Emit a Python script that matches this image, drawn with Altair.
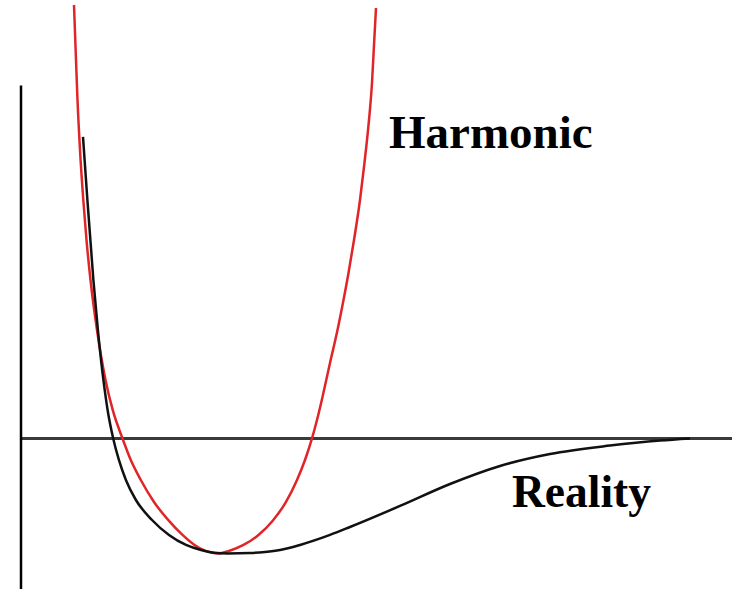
import altair as alt
import pandas as pd

# Harmonic approximation (red): separation r, energy V (well depth = 1)
harm_r = [0.265, 0.275, 0.2825, 0.295, 0.3115, 0.3275, 0.3475, 0.38, 0.4225, 0.4585,
          0.5075, 0.549, 0.599, 0.665, 0.74, 0.8075, 0.8675, 0.9225, 0.985,
          1.04, 1.1125, 1.1875, 1.2575, 1.325, 1.38, 1.42, 1.455, 1.4825, 1.5075,
          1.545, 1.5825, 1.6125, 1.6375, 1.665, 1.695, 1.715, 1.74, 1.755, 1.765, 1.775]
harm_v = [3.770, 3.291, 2.943, 2.509, 2.074, 1.726, 1.378, 0.943, 0.509, 0.248,
          0.0, -0.187, -0.361, -0.552, -0.717, -0.839, -0.926, -0.978, -1.0,
          -0.978, -0.926, -0.839, -0.717, -0.552, -0.361, -0.187, 0.0, 0.178, 0.361,
          0.657, 0.943, 1.204, 1.439, 1.726, 2.074, 2.361, 2.770, 3.091, 3.422, 3.743]

# Real (anharmonic) potential (black)
real_r = [0.31, 0.332, 0.362, 0.3845, 0.412, 0.433, 0.461, 0.4895, 0.5245, 0.5745,
          0.655, 0.74, 0.825, 0.9, 0.965, 1.035, 1.145, 1.22, 1.295, 1.395,
          1.545, 1.645, 1.895, 2.145, 2.395, 2.645, 2.945, 3.195, 3.345]
real_v = [2.622, 2.074, 1.378, 0.943, 0.509, 0.248, 0.0, -0.187, -0.361, -0.535,
          -0.709, -0.839, -0.926, -0.970, -0.993, -1.0, -0.996, -0.987, -0.970, -0.926,
          -0.839, -0.770, -0.587, -0.396, -0.239, -0.135, -0.062, -0.018, 0.0]

# Curve labels
label_text = ["Harmonic", "Reality"]
label_r = [1.84, 2.455]
label_v = [2.526, -0.596]
label_size = [47, 45.5]

# Axis lines: energy zero line and the vertical energy axis
zero_line = pd.DataFrame({"r": [-0.005], "r2": [3.56], "v": [0.0]})
v_axis = pd.DataFrame({"r": [0.0], "v": [-1.32], "v2": [3.07]})

x_scale = alt.Scale(domain=[-0.105, 3.555], nice=False, zero=False)
y_scale = alt.Scale(domain=[-1.309, 3.813], nice=False, zero=False)

harm = pd.DataFrame({"r": harm_r, "v": harm_v})
real = pd.DataFrame({"r": real_r, "v": real_v})
labels = pd.DataFrame({"text": label_text, "r": label_r, "v": label_v,
                       "size": label_size})

X = alt.X("r:Q", scale=x_scale, axis=None)
Y = alt.Y("v:Q", scale=y_scale, axis=None)

hline = alt.Chart(zero_line).mark_rule(color="#3a3a3a", strokeWidth=3).encode(
    x=X, x2="r2:Q", y=Y
)
vline = alt.Chart(v_axis).mark_rule(color="#000000", strokeWidth=2.5).encode(
    x=X, y=Y, y2="v2:Q"
)

harm_line = alt.Chart(harm).mark_line(
    color="#e02428", strokeWidth=2.5, interpolate="monotone"
).encode(x=X, y=Y, order="r:Q")

real_line = alt.Chart(real).mark_line(
    color="#111111", strokeWidth=2.5, interpolate="monotone"
).encode(x=X, y=Y, order="r:Q")

text = alt.Chart(labels).mark_text(
    align="left", baseline="alphabetic", font="Liberation Serif",
    fontWeight="bold", color="#000000"
).encode(
    x=X, y=Y, text="text:N",
    size=alt.Size("size:Q", scale=None, legend=None)
)

chart = alt.layer(hline, vline, harm_line, real_line, text).properties(
    width=732, height=589, padding=0, autosize=alt.AutoSizeParams(type="none")
).configure_view(stroke=None)

chart.save("out.html", embed_options={"renderer": "svg", "actions": False})
